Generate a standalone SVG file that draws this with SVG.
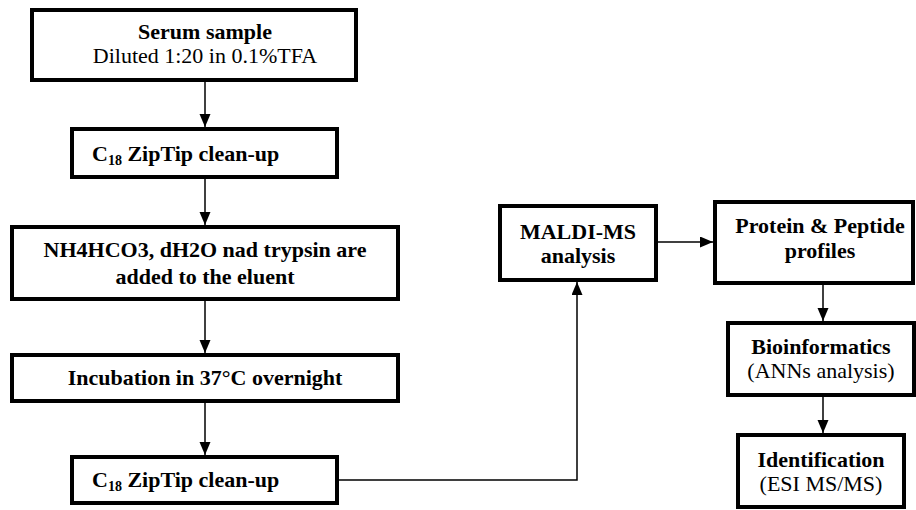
<svg xmlns="http://www.w3.org/2000/svg" width="916" height="510" viewBox="0 0 916 510">
<style>
.box{fill:#fff;stroke:#000;stroke-width:4}
.t{font-family:"Liberation Serif","Times New Roman",serif;font-size:22px;fill:#000;text-anchor:middle}
.b{font-weight:bold}
.s{text-anchor:start}
.sub{font-size:14px}
.con{fill:none;stroke:#000;stroke-width:1.5}
</style>
<defs>
<marker id="ah" markerUnits="userSpaceOnUse" markerWidth="14" markerHeight="12" refX="13" refY="5.5" orient="auto">
<path d="M0,0 L13,5.5 L0,11 z" fill="#000"/>
</marker>
</defs>
<rect width="916" height="510" fill="#fff"/>
<g id="connectors">
<line class="con" x1="205" y1="82" x2="205" y2="127" marker-end="url(#ah)"/>
<line class="con" x1="205" y1="179" x2="205" y2="225" marker-end="url(#ah)"/>
<line class="con" x1="205" y1="301" x2="205" y2="353" marker-end="url(#ah)"/>
<line class="con" x1="205" y1="403" x2="205" y2="455" marker-end="url(#ah)"/>
<path class="con" d="M339,480 H577 V282" marker-end="url(#ah)"/>
<line class="con" x1="658" y1="242" x2="713" y2="242" marker-end="url(#ah)"/>
<line class="con" x1="823" y1="285" x2="823" y2="321" marker-end="url(#ah)"/>
<line class="con" x1="823" y1="397" x2="823" y2="433" marker-end="url(#ah)"/>
</g>
<g id="serum">
<rect class="box" x="32" y="10" width="324" height="70"/>
<text class="t b" x="205" y="39">Serum sample</text>
<text class="t" x="205" y="63">Diluted 1:20 in 0.1%TFA</text>
</g>
<g id="ziptip1">
<rect class="box" x="72" y="129" width="265" height="48"/>
<text class="t b s" x="92" y="161">C<tspan class="sub" dy="4">18</tspan><tspan dy="-4"> ZipTip clean-up</tspan></text>
</g>
<g id="trypsin">
<rect class="box" x="12" y="227" width="386" height="72"/>
<text class="t b" x="205" y="257">NH4HCO3, dH2O nad trypsin are</text>
<text class="t b" x="205" y="284">added to the eluent</text>
</g>
<g id="incubation">
<rect class="box" x="12" y="355" width="386" height="46"/>
<text class="t b" x="205" y="385">Incubation in 37°C overnight</text>
</g>
<g id="ziptip2">
<rect class="box" x="72" y="457" width="265" height="46"/>
<text class="t b s" x="92" y="487">C<tspan class="sub" dy="4">18</tspan><tspan dy="-4"> ZipTip clean-up</tspan></text>
</g>
<g id="maldi">
<rect class="box" x="500" y="206" width="156" height="74"/>
<text class="t b" x="578" y="239">MALDI-MS</text>
<text class="t b" x="578" y="263">analysis</text>
</g>
<g id="profiles">
<rect class="box" x="715" y="202" width="198" height="81"/>
<text class="t b" x="820" y="233">Protein &amp; Peptide</text>
<text class="t b" x="820" y="258">profiles</text>
</g>
<g id="bioinformatics">
<rect class="box" x="728" y="323" width="186" height="72"/>
<text class="t b" x="821" y="354">Bioinformatics</text>
<text class="t" x="821" y="378">(ANNs analysis)</text>
</g>
<g id="identification">
<rect class="box" x="738" y="435" width="166" height="72"/>
<text class="t b" x="821" y="467">Identification</text>
<text class="t" x="821" y="491">(ESI MS/MS)</text>
</g>
</svg>
